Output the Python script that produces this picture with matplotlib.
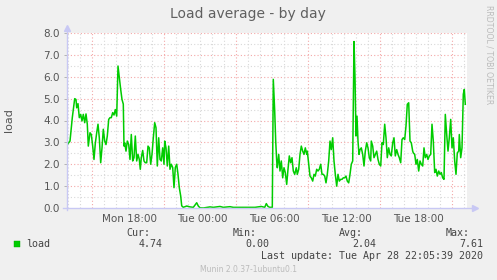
import matplotlib
matplotlib.use("Agg")
import matplotlib.pyplot as plt
from matplotlib.patches import Rectangle
import numpy as np

# ---- data ----
# sample position in 5-minute steps since Mon 12:45
steps = [0.3, 3.0, 5.3, 7.7, 9.0, 9.7, 11.0, 12.3, 13.7, 15.0, 16.3, 17.7, 19.0, 20.3, 21.3,
         23.0, 24.3, 25.7, 27.0, 28.3, 29.7, 31.0, 32.3, 33.7, 35.0, 36.3, 37.7, 39.0, 40.3,
         41.7, 43.0, 44.3, 45.7, 47.0, 48.3, 49.7, 51.0, 52.3, 53.7, 55.0, 56.3, 57.0,
         57.7, 59.0, 60.3, 61.7, 63.0, 64.3, 65.7, 67.0, 68.3, 69.7, 71.0, 72.3, 73.3, 74.3,
         75.7, 77.0, 78.3, 79.7, 81.0, 82.3, 83.7, 85.0, 86.3, 87.7, 89.0, 90.3, 91.7, 93.0,
         94.3, 95.7, 97.0, 97.7, 99.0, 100.3, 101.7, 103.0, 104.3, 105.7, 107.0, 108.3, 109.7,
         111.0, 112.3, 113.7, 114.7, 116.3, 119.7, 123.0, 126.3, 129.7, 131.3, 133.0, 136.3,
         143.0, 146.3, 149.7, 153.0, 156.3, 163.0, 166.3, 171.3, 178.0, 188.0, 194.3, 197.7,
         199.3, 201.0, 202.7, 205.3, 206.3, 207.7, 208.7, 209.7, 210.3, 211.7, 213.0, 214.3,
         215.7, 217.0, 218.3, 219.7, 221.0, 222.3, 223.7, 225.0, 226.3, 227.7, 229.3, 230.3,
         231.7, 233.0, 234.3, 235.7, 237.0, 238.3, 239.7, 240.3, 241.7, 243.0, 244.3, 245.7,
         247.0, 248.3, 249.7, 251.0, 252.3, 253.7, 255.0, 256.3, 257.7, 259.0, 260.3, 261.7,
         263.0, 264.3, 265.7, 267.0, 268.3, 269.7, 271.0, 272.3, 273.7, 275.0, 276.3, 277.7,
         279.0, 280.3, 281.7, 283.0, 284.3, 285.7, 287.0, 288.0, 289.0, 290.0, 291.0, 292.0,
         293.0, 294.3, 295.7, 297.0, 298.3, 299.7, 301.0, 302.3, 303.7, 304.3, 305.7, 307.0,
         308.3, 309.7, 311.0, 312.3, 313.7, 315.0, 316.3, 317.7, 319.0, 320.3, 321.7, 323.0,
         324.3, 325.7, 327.0, 328.3, 329.7, 331.0, 332.3, 333.7, 335.0, 336.3, 337.7, 339.0,
         340.3, 341.7, 343.0, 344.3, 345.7, 346.3, 347.7, 349.0, 350.3, 351.7, 353.0, 354.3,
         355.7, 357.0, 358.3, 359.7, 361.0, 362.3, 363.7, 365.0, 366.3, 367.7, 369.0, 370.3,
         371.7, 373.0, 374.3, 375.7, 377.0, 378.3, 379.7, 381.0, 382.3, 383.7, 385.0, 386.3,
         387.7, 389.0, 390.3, 391.7, 392.3, 393.7, 395.0, 396.3, 397.3, 398.3]
load = [2.90, 3.06, 4.13, 5.00, 4.96, 4.58, 4.77, 4.13, 4.28, 3.98, 4.28, 3.90, 4.30, 3.83, 2.83,
        3.44, 3.36, 2.83, 2.22, 2.95, 3.44, 3.83, 3.21, 2.07, 2.75, 3.60, 3.06, 2.90, 3.29,
        4.05, 4.13, 4.13, 4.36, 4.25, 4.50, 4.20, 6.49, 5.96, 5.42, 4.96, 4.75, 2.83,
        2.98, 2.60, 3.06, 2.90, 2.22, 3.36, 2.15, 2.30, 3.29, 2.15, 2.45, 2.22, 1.77, 2.30,
        2.63, 2.15, 2.07, 2.07, 2.83, 2.75, 2.00, 2.45, 3.21, 3.90, 3.67, 1.92, 3.21, 2.22,
        2.15, 2.75, 2.00, 3.06, 2.75, 1.92, 2.83, 1.77, 2.00, 1.85, 0.93, 1.85, 2.00,
        1.54, 0.93, 0.55, 0.10, 0.03, 0.09, 0.05, 0.03, 0.24, 0.09, 0.01, 0.00,
        0.05, 0.03, 0.05, 0.07, 0.03, 0.06, 0.03, 0.03, 0.03, 0.03, 0.07, 0.03,
        0.20, 0.07, 0.03, 0.03, 5.88, 4.43, 3.06, 2.15, 1.84, 2.45, 1.69, 2.15,
        1.38, 1.84, 1.62, 1.08, 1.77, 2.38, 2.07, 2.30, 1.69, 1.54, 1.84, 1.54,
        1.77, 2.45, 2.83, 2.60, 2.45, 2.75, 2.45, 2.60, 2.00, 1.46, 1.38, 1.23,
        1.54, 1.46, 1.77, 1.69, 1.77, 2.00, 1.54, 1.54, 1.46, 1.15, 1.54, 2.15,
        3.06, 2.67, 3.21, 2.15, 1.54, 1.00, 1.54, 1.23, 1.31, 1.31, 1.38, 1.38,
        1.46, 1.23, 1.15, 1.54, 2.00, 2.15, 7.61, 5.96, 3.29, 4.20, 3.06, 2.45,
        2.67, 2.75, 2.45, 1.92, 2.60, 2.98, 2.75, 2.30, 2.15, 3.06, 2.83, 2.30,
        2.45, 2.60, 2.22, 2.00, 1.92, 2.98, 2.90, 3.83, 3.21, 2.30, 2.75, 2.45,
        2.38, 2.98, 3.21, 2.38, 2.67, 2.45, 2.30, 2.07, 3.13, 3.21, 3.13, 3.75,
        4.74, 4.81, 3.06, 2.98, 2.60, 2.52, 2.45, 2.00, 2.22, 1.69, 2.15, 2.00,
        1.92, 2.75, 2.30, 2.45, 2.22, 2.38, 2.45, 3.83, 3.06, 1.62, 1.77, 1.46,
        1.69, 1.54, 1.62, 1.38, 1.31, 4.28, 3.36, 2.60, 3.21, 4.05, 2.75, 3.21,
        2.15, 1.54, 2.52, 2.60, 3.36, 2.30, 2.75, 5.20, 5.42, 4.74]

tick_hours = [18, 24, 30, 36, 42]
tick_labels = ["Mon 18:00", "Tue 00:00", "Tue 06:00", "Tue 12:00", "Tue 18:00"]
y_ticks = [0, 1, 2, 3, 4, 5, 6, 7, 8]
y_tick_labels = ["0.0", "1.0", "2.0", "3.0", "4.0", "5.0", "6.0", "7.0", "8.0"]
stats_labels = ["Cur:", "Min:", "Avg:", "Max:"]
stats_values = ["4.74", "0.00", "2.04", "7.61"]

# ---- plotting ----
W, H = 497, 280
fig = plt.figure(figsize=(W / 100, H / 100), dpi=100, facecolor="#F0F0F0")

def fx(px):
    return px / W

def fy(py):
    return 1 - py / H

L, R, T, B = 67, 467, 33, 208
ax = fig.add_axes([fx(L), fy(B), (R - L) / W, (B - T) / H])
ax.set_facecolor("white")

t0 = 12.75
t_end = t0 + 400 / 12
hours = t0 + np.array(steps) / 12.0

ax.set_xlim(t0, t_end)
ax.set_ylim(0, 8)

# grid
minor_col = "#D8D8D8"
major_col = "#F4A8A8"
dash = (0, (1, 2))
for yv in np.arange(0.5, 8.01, 0.5):
    c = major_col if abs(yv - round(yv)) < 1e-6 else minor_col
    ax.axhline(yv, color=c, lw=0.8, ls=dash, zorder=1)
first_major = t0 + 25 / 12
for k in range(-2, 40):
    xv = first_major + (k - 2)
    if t0 < xv < t_end:
        c = major_col if (k - 2) % 6 == 0 else minor_col
        ax.axvline(xv, color=c, lw=0.8, ls=dash, zorder=1)

ax.plot(hours, load, color="#00CC00", lw=1.1, zorder=3, solid_joinstyle="round")

for s in ax.spines.values():
    s.set_visible(False)
axis_col = "#C8C8F4"
ax.plot([0, 0], [-0.01, 1.02], transform=ax.transAxes, color=axis_col, lw=1, clip_on=False, zorder=4)
ax.plot([-0.01, 1.015], [0, 0], transform=ax.transAxes, color=axis_col, lw=1, clip_on=False, zorder=4)
ax.plot([0], [1.03], marker="^", ms=4, color=axis_col, transform=ax.transAxes, clip_on=False, zorder=4)
ax.plot([1.02], [0], marker=">", ms=4, color=axis_col, transform=ax.transAxes, clip_on=False, zorder=4)

ax.set_yticks(y_ticks)
ax.set_yticklabels(y_tick_labels)
ax.set_xticks(tick_hours)
ax.set_xticklabels(tick_labels)
ax.tick_params(axis="y", length=2, width=0.6, color="#AAAAAA", labelsize=7.5,
               labelcolor="#555555", pad=3)
ax.tick_params(axis="x", length=0, labelsize=7.5, labelcolor="#555555", pad=4)

fig.text(fx(248), fy(14), "Load average - by day", ha="center", va="center",
         fontsize=10, color="#606060")
fig.text(fx(9), fy(120), "load", rotation=90, ha="center", va="center",
         fontsize=8, color="#555555")
fig.text(fx(489), fy(5), "RRDTOOL / TOBI OETIKER", rotation=270, ha="center", va="top",
         fontsize=5.6, color="#BBBBBB")

mono = "DejaVu Sans Mono"
txtc = "#444444"
fs = 7.2
label_right = [150, 257, 363, 470]
value_right = [163, 269, 376, 483]
for lab, val, lx, vx in zip(stats_labels, stats_values, label_right, value_right):
    fig.text(fx(lx), fy(233), lab, ha="right", va="center", family=mono, fontsize=fs, color=txtc)
    fig.text(fx(vx), fy(244), val, ha="right", va="center", family=mono, fontsize=fs, color=txtc)

fig.patches.append(Rectangle((fx(14), fy(247)), 6 / W, 6 / H, transform=fig.transFigure,
                             facecolor="#00CC00", edgecolor="#00AA00", lw=0.3))
fig.text(fx(26), fy(244), "load", ha="left", va="center", family=mono, fontsize=fs, color=txtc)
fig.text(fx(483), fy(256), "Last update: Tue Apr 28 22:05:39 2020", ha="right", va="center",
         family=mono, fontsize=fs, color=txtc)
fig.text(fx(248), fy(269), "Munin 2.0.37-1ubuntu0.1", ha="center", va="center",
         fontsize=5.5, color="#BBBBBB")

fig.savefig("out.png", dpi=100, facecolor=fig.get_facecolor())
